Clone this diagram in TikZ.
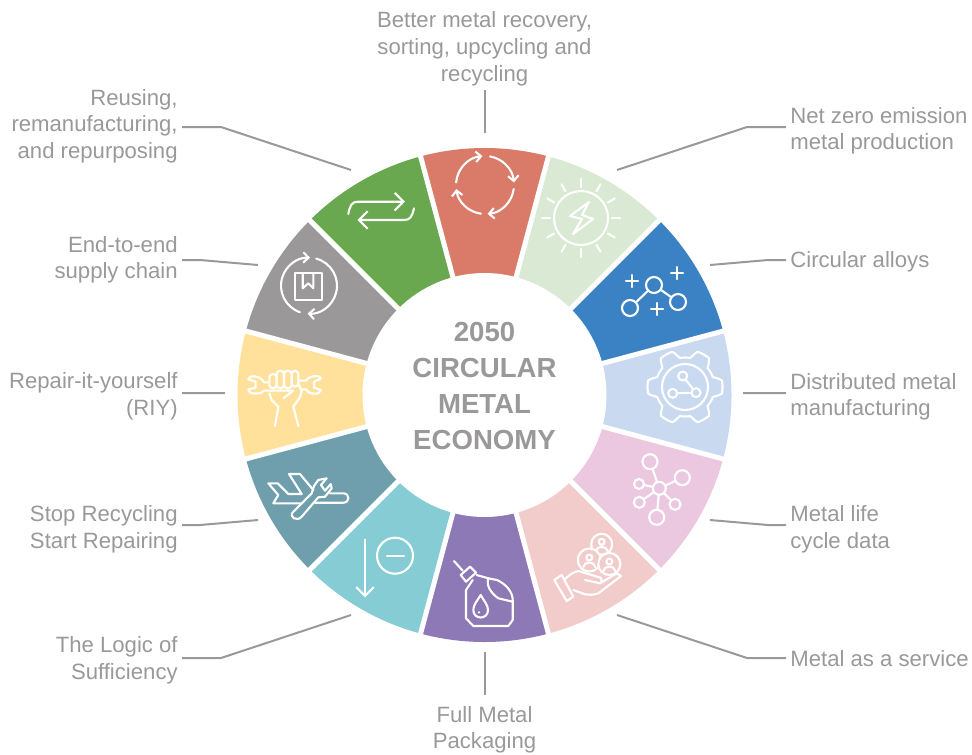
\documentclass[tikz,border=0pt]{standalone}
\usepackage{fontspec}
\setmainfont{Liberation Sans}
\usetikzlibrary{arrows.meta}

\definecolor{sectorred}{HTML}{D97B68}
\definecolor{sectorsun}{HTML}{D9E9D3}
\definecolor{sectorblue}{HTML}{3A82C4}
\definecolor{sectorsky}{HTML}{C9D9F0}
\definecolor{sectorpink}{HTML}{ECC8E0}
\definecolor{sectorrose}{HTML}{F2CCCB}
\definecolor{sectorpurple}{HTML}{8C79B6}
\definecolor{sectorcyan}{HTML}{85CCD4}
\definecolor{sectorteal}{HTML}{6F9FAD}
\definecolor{sectoryellow}{HTML}{FFE19B}
\definecolor{sectorgray}{HTML}{9A9898}
\definecolor{sectorgreen}{HTML}{69A84F}
\definecolor{labelgray}{HTML}{9A9898}

\tikzset{
  labelr/.style={anchor=west,align=left,text=labelgray,inner sep=0.08cm,font=\fontsize{12.6}{15.1}\selectfont},
  labell/.style={anchor=east,align=right,text=labelgray,inner sep=0.08cm,font=\fontsize{12.6}{15.1}\selectfont},
  labelc/.style={align=center,text=labelgray,inner sep=0.08cm,font=\fontsize{12.6}{15.1}\selectfont},
  leader/.style={labelgray,line width=0.04cm},
  icon/.style={white,line width=0.042cm,line join=round,line cap=round},
  icondot/.style={circle,draw=white,line width=0.042cm,inner sep=0pt,minimum size=#1*0.02cm},
  smallhead/.style={-{Straight Barb[length=3pt,width=6pt]}},
  bighead/.style={-{Straight Barb[length=5pt,width=10pt]}}
}

\begin{document}
\begin{tikzpicture}[x=0.02cm,y=-0.02cm]
    \useasboundingbox (0,0) rectangle (972,754);
    \coordinate (wheel) at (484.5,395);

    % Sectors, clockwise from the top
    \foreach \col [count=\i from 0] in {sectorred,sectorsun,sectorblue,sectorsky,sectorpink,sectorrose,sectorpurple,sectorcyan,sectorteal,sectoryellow,sectorgray,sectorgreen} {
        \pgfmathsetmacro{\a}{-105+30*\i}
        \fill[\col] (wheel) ++(\a:247) arc[start angle=\a,delta angle=30,radius=247] -- (wheel) -- cycle;
    }

    % White gaps between sectors
    \foreach \a in {15,45,...,345}
        \draw[white,line width=0.1cm] (wheel) -- ++(\a:252);

    % Centre
    \node[circle,fill=white,inner sep=0pt,minimum size=4.88cm] (hubdisc) at (wheel) {};
    \node[text=labelgray,align=center,inner sep=0pt,font=\fontsize{15.7}{20.4}\selectfont\bfseries] (hub) at (484.5,386) {2050\\CIRCULAR\\METAL\\ECONOMY};

    % Labels
    \node[labelc,anchor=south] (recovery) at (484.5,90) {Better metal recovery,\\sorting, upcycling and\\recycling};
    \node[labelr] (netzero) at (786,131) {Net zero emission\\metal production};
    \node[labelr] (alloys) at (786,262) {Circular alloys};
    \node[labelr] (distributed) at (786,397) {Distributed metal\\manufacturing};
    \node[labelr] (lifecycle) at (786,529) {Metal life\\cycle data};
    \node[labelr] (service) at (786,659) {Metal as a service};
    \node[labelc,anchor=north] (packaging) at (484.5,702) {Full Metal\\Packaging};
    \node[labell] (sufficiency) at (182,660) {The Logic of\\Sufficiency};
    \node[labell] (stoprecycling) at (182,529) {Stop Recycling\\Start Repairing};
    \node[labell] (repair) at (182,396) {Repair-it-yourself\\(RIY)};
    \node[labell] (supply) at (182,260) {End-to-end\\supply chain};
    \node[labell] (reusing) at (182,126) {Reusing,\\remanufacturing,\\and repurposing};

    % Free ends of the connectors
    \coordinate (recoveryend) at (484.5,133);
    \coordinate (netzeroend) at (617,170);
    \coordinate (alloysend) at (710,265);
    \coordinate (distributedend) at (743,393);
    \coordinate (lifecycleend) at (710,520);
    \coordinate (serviceend) at (617,615);
    \coordinate (packagingend) at (484.5,652);
    \coordinate (sufficiencyend) at (351,615);
    \coordinate (stoprecyclingend) at (258,520);
    \coordinate (repairend) at (225,393);
    \coordinate (supplyend) at (258,265);
    \coordinate (reusingend) at (351,170);

    % Connectors
    \draw[leader] (recovery.south) -- (recoveryend);
    \draw[leader] ([yshift=0.08cm]netzero.west) -- ++(-39,0) -- (netzeroend);
    \draw[leader] ([yshift=0.04cm]alloys.west) -- ++(-18,0) -- (alloysend);
    \draw[leader] ([yshift=0.08cm]distributed.west) -- (distributedend);
    \draw[leader] ([yshift=0.08cm]lifecycle.west) -- ++(-18,0) -- (lifecycleend);
    \draw[leader] ([yshift=0.02cm]service.west) -- ++(-39,0) -- (serviceend);
    \draw[leader] ([yshift=0.14cm]packaging.north) -- (packagingend);
    \draw[leader] ([yshift=0.04cm]sufficiency.east) -- ++(39,0) -- (sufficiencyend);
    \draw[leader] ([yshift=0.08cm]stoprecycling.east) -- ++(18,0) -- (stoprecyclingend);
    \draw[leader] ([yshift=0.06cm]repair.east) -- (repairend);
    \draw[leader] (supply.east) -- ++(18,0) -- (supplyend);
    \draw[leader] ([yshift=-0.02cm]reusing.east) -- ++(39,0) -- (reusingend);

    % Icon: circling arrows
    \foreach \s/\e in {-175/-95,-80/-5,8/85,98/172}
        \draw[icon,smallhead] (485,185) ++(\s:29) arc[start angle=\s,end angle=\e,radius=29];

    % Icon: sun with bolt
    \draw[icon] (581,218) circle (27);
    \foreach \a in {0,30,...,330}
        \draw[icon] (581,218) ++(\a:31) -- ++(\a:8);
    \draw[icon] (589,202) -- (570,216) -- (582,219) -- (573,234) -- (593,219) -- (582,215) -- cycle;

    % Icon: alloy atoms
    \node[icondot=16] (atomtop) at (654,285) {};
    \node[icondot=16] (atomleft) at (630,308) {};
    \node[icondot=16] (atomright) at (678,302) {};
    \draw[icon] (atomtop) -- (atomleft);
    \draw[icon] (atomtop) -- (atomright);
    \foreach \x/\y in {632/281,677/273,657/309}
        \draw[icon] (\x-6,\y) -- (\x+6,\y) (\x,\y-6) -- (\x,\y+6);

    % Icon: gear
    \draw[icon] plot[domain=0:355,samples=72,smooth cycle] ({685+(29.5+8*min(1,max(0,0.5+1.2*cos(6*\x))))*cos(\x)},{387+(29.5+8*min(1,max(0,0.5+1.2*cos(6*\x))))*sin(\x)});
    \draw[icon] (685,387) circle (23);
    \node[icondot=9] (geara) at (682.7,376) {};
    \node[icondot=9] (gearb) at (672.7,393.3) {};
    \node[icondot=9] (gearc) at (696,392.7) {};
    \draw[icon] (geara) -- (gearc) -- (gearb);

    % Icon: data network
    \node[icondot=13] (datahub) at (659.3,488.3) {};
    \foreach \x/\y/\d [count=\i] in {650/461.7/15,682.3/477.7/15,675/504.3/11,656.7/517.3/15,639.3/502.3/11,639/484/10} {
        \node[icondot=\d] (leaf\i) at (\x,\y) {};
        \draw[icon] (datahub) -- (leaf\i);
    }

    % Icon: hand with people
    \foreach \x/\y/\r in {601.7/544.3/10.5,589.3/560/11.5,609.3/564/11} {
        \fill[sectorrose] (\x,\y) circle (\r);
        \draw[icon] (\x,\y) circle (\r);
        \draw[icon] (\x,\y-2.5) circle (3);
        \draw[icon] (\x-6,\y+7) .. controls (\x-5,\y+1) and (\x+5,\y+1) .. (\x+6,\y+7);
    }
    \draw[icon] (554.3,580) -- (561.7,575) -- (573.3,596.7) -- (566.7,601) -- cycle;
    \draw[icon] (565,579) .. controls (572,573) .. (578.3,571) -- (591.7,575) -- (600.7,577.7) .. controls (602,581) .. (600,583.3) -- (585,580);
    \draw[icon] (600,583.3) -- (616.7,573.3) -- (621,576) -- (598.3,593.3) .. controls (592,595) .. (585,594.3) -- (573.3,590);

    % Icon: oil can
    \draw[icon] (454,561) -- (462.7,570.7);
    \draw[icon] (460.7,575) -- (470,566.7) -- (476,572.7) -- (466,581.7) -- cycle;
    \draw[icon] (476.7,575) -- (488.3,578.3) -- (497,580) .. controls (506,584) and (512.7,592) .. (512.7,600) -- (512.7,620) -- (508.3,626) -- (473.3,626) -- (466,618.3) -- (466,590) -- (472.7,580);
    \draw[icon] (488.3,578.3) .. controls (486,586) and (491,593) .. (498.3,598.3) -- (512.7,601.7);
    \draw[icon] (480.7,595) .. controls (477,601) and (473.3,605) .. (473.3,610) .. controls (473.3,620) and (488,620) .. (488,610) .. controls (488,605) and (484,601) .. (480.7,595) -- cycle;
    \fill[white] (479,612.3) circle (1.2);

    % Icon: arrow down and minus
    \draw[icon,bighead] (365,539.3) -- (365,597.3);
    \draw[icon] (395,555.7) circle (18);
    \draw[icon] (387,555.7) -- (404,555.7);

    % Icon: plane with wrench
    \draw[icon] (313.3,490) -- (300,474) -- (289,474) -- (301.7,494) -- (288.3,494) -- (277.7,483.3) -- (268.3,483.3) -- (278.3,495) -- (273.3,503.3) -- (301,503.3);
    \draw[icon] (330,493.3) -- (343.3,493.3) .. controls (350,493.3) and (350,502.7) .. (343.3,502.7) -- (315,502.7);
    \draw[icon] (293.3,511.7) -- (311.7,493.3) -- (314,486) -- (318.3,480) -- (326.7,478.3) -- (321,485) -- (325,490.7) -- (330.7,484) -- (331.7,488.3) -- (325,496.7) -- (318.3,497.3) -- (301.7,516.7) .. controls (297,522) and (288,517) .. (293.3,511.7) -- cycle;

    % Icon: fist with wrench
    \begin{scope}[shift={(240,350)},scale=0.3333]
        \draw[icon] (88,97) -- (72,97) .. controls (66,84) and (50,76) .. (30,80) -- (25,88) -- (47,95) -- (47,113) -- (25,118) -- (30,128) .. controls (50,134) and (66,130) .. (72,122) -- (130,122) -- (160,122) -- (130,145);
        \draw[icon] (175,92) -- (198,92) .. controls (205,78) and (230,76) .. (238,80) -- (243,86) -- (222,95) -- (222,113) -- (243,120) -- (235,130) .. controls (215,134) and (203,128) .. (198,118) -- (185,118);
        \foreach \l/\r/\t/\b in {88/110/72/115,110/132/62/115,132/155/62/115,155/175/62/110}
            \draw[icon,rounded corners=2pt] (\l,\b) -- (\l,\t) -- (\r,\t) -- (\r,\b) -- cycle;
        \draw[icon] (88,130) -- (95,150) -- (115,170) -- (105,228);
        \draw[icon] (175,100) -- (185,125) -- (178,145) -- (160,170) -- (175,228);
    \end{scope}

    % Icon: box with arrows
    \draw[icon,smallhead] (309,285.7) ++(109:28) arc[start angle=109,end angle=272,radius=28];
    \draw[icon,smallhead] (309,285.7) ++(-75:28) arc[start angle=-75,end angle=93,radius=28];
    \draw[icon] (295,273.3) rectangle (322.3,300);
    \draw[icon] (302.7,273.3) -- (302.7,288.3) -- (308.3,283.3) -- (313.3,288.3) -- (313.3,273.3);

    % Icon: two way arrows
    \draw[icon,bighead] (348.3,214) .. controls (350,205) and (352,201.7) .. (358,201.7) -- (405,201.7);
    \draw[icon,bighead] (414,208.3) .. controls (412,217) and (410,220) .. (404,220) -- (357.3,220);
\end{tikzpicture}
\end{document}
